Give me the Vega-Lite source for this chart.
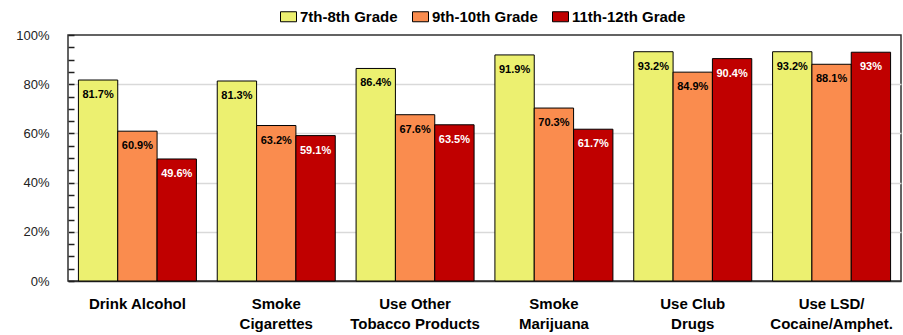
{
  "$schema": "https://vega.github.io/schema/vega-lite/v6.json",
  "autosize": {"type": "none"},
  "padding": {"left": 68, "top": 35, "right": 2, "bottom": 54},
  "width": 833,
  "height": 246,
  "background": "white",
  "config": {
    "font": "Liberation Sans",
    "view": {"stroke": "#303030", "strokeWidth": 1.5}
  },
  "data": {
    "values": [
      {"behavior": "Drink Alcohol", "grade": "7th-8th Grade", "pct": 81.7},
      {"behavior": "Drink Alcohol", "grade": "9th-10th Grade", "pct": 60.9},
      {"behavior": "Drink Alcohol", "grade": "11th-12th Grade", "pct": 49.6},
      {"behavior": "Smoke|Cigarettes", "grade": "7th-8th Grade", "pct": 81.3},
      {"behavior": "Smoke|Cigarettes", "grade": "9th-10th Grade", "pct": 63.2},
      {"behavior": "Smoke|Cigarettes", "grade": "11th-12th Grade", "pct": 59.1},
      {"behavior": "Use Other|Tobacco Products", "grade": "7th-8th Grade", "pct": 86.4},
      {"behavior": "Use Other|Tobacco Products", "grade": "9th-10th Grade", "pct": 67.6},
      {"behavior": "Use Other|Tobacco Products", "grade": "11th-12th Grade", "pct": 63.5},
      {"behavior": "Smoke|Marijuana", "grade": "7th-8th Grade", "pct": 91.9},
      {"behavior": "Smoke|Marijuana", "grade": "9th-10th Grade", "pct": 70.3},
      {"behavior": "Smoke|Marijuana", "grade": "11th-12th Grade", "pct": 61.7},
      {"behavior": "Use Club|Drugs", "grade": "7th-8th Grade", "pct": 93.2},
      {"behavior": "Use Club|Drugs", "grade": "9th-10th Grade", "pct": 84.9},
      {"behavior": "Use Club|Drugs", "grade": "11th-12th Grade", "pct": 90.4},
      {"behavior": "Use LSD/|Cocaine/Amphet.", "grade": "7th-8th Grade", "pct": 93.2},
      {"behavior": "Use LSD/|Cocaine/Amphet.", "grade": "9th-10th Grade", "pct": 88.1},
      {"behavior": "Use LSD/|Cocaine/Amphet.", "grade": "11th-12th Grade", "pct": 93.0}
    ]
  },
  "transform": [
    {"calculate": "format(datum.pct, '.1~f') + '%'", "as": "label"}
  ],
  "encoding": {
    "x": {
      "field": "behavior",
      "type": "nominal",
      "sort": null,
      "scale": {"paddingInner": 0.15, "paddingOuter": 0.075},
      "axis": {
        "title": null,
        "labelAngle": 0,
        "labelExpr": "split(datum.value, '|')",
        "labelFont": "Liberation Sans",
        "labelFontSize": 15,
        "labelFontWeight": "bold",
        "labelColor": "#000000",
        "labelBaseline": "top",
        "labelPadding": 15,
        "labelLineHeight": 20,
        "ticks": false,
        "domainColor": "#303030",
        "domainWidth": 1.5
      }
    },
    "xOffset": {
      "field": "grade",
      "type": "nominal",
      "sort": ["7th-8th Grade", "9th-10th Grade", "11th-12th Grade"],
      "scale": {"paddingInner": 0, "paddingOuter": 0}
    }
  },
  "layer": [
    {
      "mark": {"type": "bar", "stroke": "#000000", "strokeWidth": 1},
      "encoding": {
        "y": {
          "field": "pct",
          "type": "quantitative",
          "scale": {"domain": [0, 100], "nice": false},
          "axis": {
            "title": null,
            "orient": "left",
            "values": [20, 40, 60, 80],
            "labels": false,
            "ticks": false,
            "domain": false,
            "grid": true,
            "gridColor": "#d9d9d9",
            "gridWidth": 1.5,
            "zindex": 0
          }
        },
        "color": {
          "field": "grade",
          "type": "nominal",
          "sort": ["7th-8th Grade", "9th-10th Grade", "11th-12th Grade"],
          "scale": {
            "domain": ["7th-8th Grade", "9th-10th Grade", "11th-12th Grade"],
            "range": ["#ecf070", "#fa8c4e", "#c00000"]
          },
          "legend": {
            "title": null,
            "orient": "none",
            "direction": "horizontal",
            "legendX": 212,
            "legendY": -27,
            "symbolType": "M-1,-0.625H1V0.625H-1Z",
            "symbolSize": 256,
            "symbolStrokeColor": "#000000",
            "symbolStrokeWidth": 1,
            "symbolOpacity": 1,
            "labelFont": "Liberation Sans",
            "labelFontSize": 15,
            "labelFontWeight": "bold",
            "labelColor": "#000000",
            "labelOffset": 3,
            "columnPadding": 12
          }
        }
      }
    },
    {
      "mark": {"type": "text", "baseline": "middle", "align": "center", "dy": 15, "fontSize": 11, "fontWeight": "bold", "font": "Liberation Sans"},
      "encoding": {
        "y": {
          "field": "pct",
          "type": "quantitative",
          "axis": {
            "title": null,
            "orient": "left",
            "values": [0, 5, 10, 15, 20, 25, 30, 35, 40, 45, 50, 55, 60, 65, 70, 75, 80, 85, 90, 95, 100],
            "labelExpr": "datum.value % 20 == 0 ? datum.value + '%' : ''",
            "labelFont": "Liberation Sans",
            "labelFontSize": 13,
            "labelColor": "#222222",
            "offset": -6,
            "domain": false,
            "grid": false,
            "tickSize": 6,
            "tickColor": "#202020",
            "tickWidth": 1.5,
            "labelPadding": 19,
            "zindex": 1
          }
        },
        "text": {"field": "label"},
        "color": {
          "condition": {"test": "datum.grade == '11th-12th Grade'", "value": "#ffffff"},
          "value": "#000000"
        }
      }
    }
  ],
  "resolve": {"axis": {"y": "independent"}}
}
